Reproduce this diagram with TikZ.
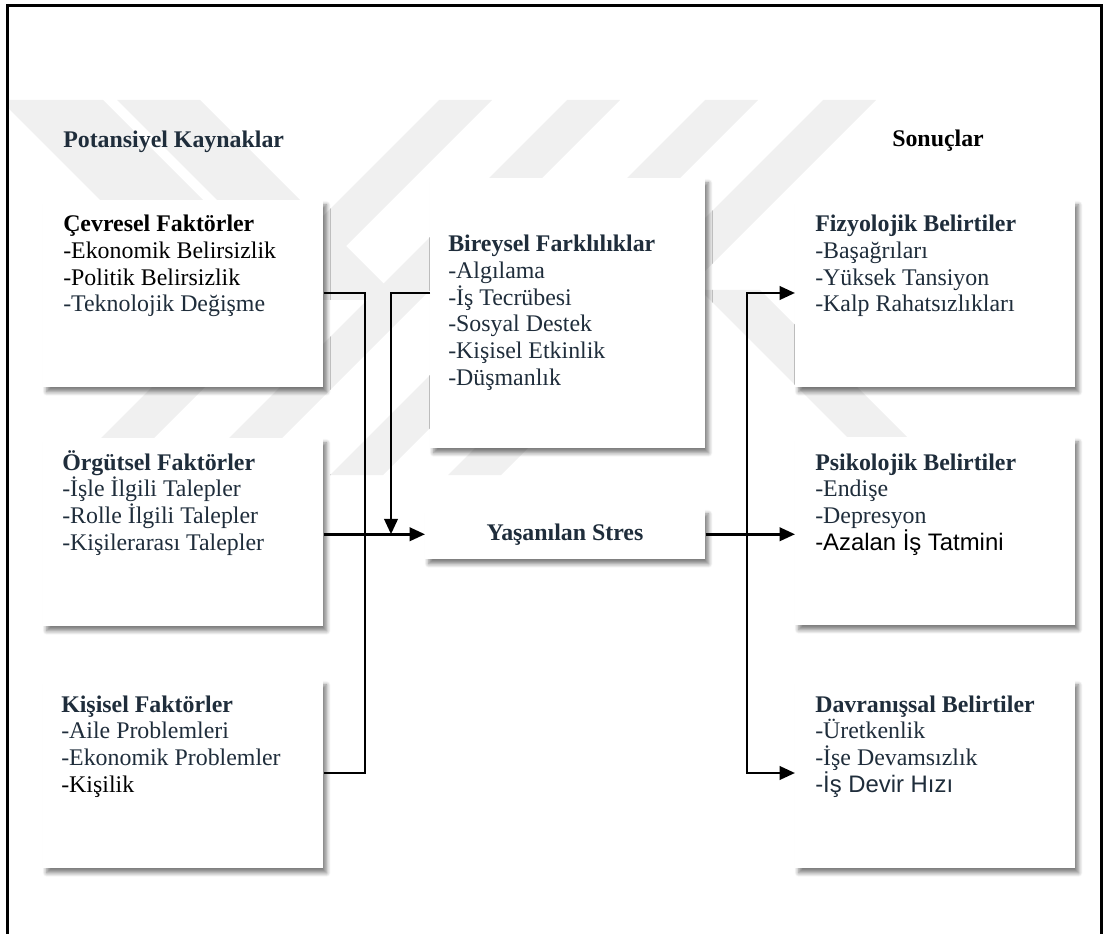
\documentclass[tikz,border=0pt]{standalone}
\usepackage{fontspec}
\setmainfont{Liberation Serif}
\newfontfamily\arialfont{Liberation Sans}
\usetikzlibrary{arrows.meta,shadows.blur}
\definecolor{ink}{HTML}{1F2D3B}
\definecolor{mark}{HTML}{F0F0F0}

% lines of a box, baselines exactly 20pt apart, anchored on the first baseline
\newcommand\stack[1]{\vtop{\lineskiplimit=-100pt\relax\lineskip=0pt\relax
  \baselineskip=20pt\relax\halign{##\hfil\cr#1\crcr}}}

\tikzset{
  panel/.style={fill=white, anchor=north west, inner sep=0pt,
    blur shadow={shadow xshift=2.5pt, shadow yshift=-3.5pt,
      shadow blur radius=3pt, shadow blur steps=8, shadow opacity=50}},
  lbl/.style={anchor=base west, inner sep=0pt,
    font=\fontsize{17.9pt}{20pt}\selectfont, text=ink},
  link/.style={line width=2pt, draw=black},
  tip/.style={-{Triangle[length=11.5pt,width=10pt]}},
  tips/.style={{Triangle[length=11.5pt,width=10pt]}-{Triangle[length=11.5pt,width=10pt]}},
  band/.style={fill=mark, draw=none},
}

\begin{document}
\begin{tikzpicture}[x=0.75pt, y=-0.75pt]
\useasboundingbox (0,0) rectangle (1110,934);

% faint background stripes
\begin{scope}
  \clip (8,100) rectangle (1102,475);
  % rising stripes
  \foreach \a in {439,567,705,823}
    \fill[band] (\a,100) -- ++(53,0) -- ++(-375,375) -- ++(-53,0) -- cycle;
  % falling stripes
  \fill[band] (0,100) -- (103,100) -- (303,300) -- (200,300) -- cycle;
  \fill[band] (117,100) -- (200,100) -- (400,300) -- (317,300) -- cycle;
  \fill[band] (700,290) -- (760,290) -- (945,475) -- (885,475) -- cycle;
\end{scope}

% outer frame
\draw[line width=2.2pt] (7.5,940) -- (7.5,5.5) -- (1101.5,5.5) -- (1101.5,940);

% column titles
\node[lbl, font=\fontsize{17.9pt}{20pt}\selectfont\bfseries] (tsrc) at (63,148) {Potansiyel Kaynaklar};
\node[lbl, text=black, font=\fontsize{17.9pt}{20pt}\selectfont\bfseries] (tres) at (892,147) {Sonuçlar};

% boxes
\node[panel, minimum width=210pt, minimum height=140.25pt] (cev) at (43,200) {};
\node[panel, minimum width=210pt, minimum height=141pt] (org) at (43,438) {};
\node[panel, minimum width=210pt, minimum height=141pt] (kis) at (43,680) {};
\node[panel, minimum width=206.25pt, minimum height=202.5pt] (bir) at (430,178) {};
\node[panel, minimum width=210pt, minimum height=37.5pt] (yas) at (425,509) {};
\node[panel, minimum width=210pt, minimum height=140.25pt] (fiz) at (795,200) {};
\node[panel, minimum width=210pt, minimum height=141pt] (psi) at (795,437) {};
\node[panel, minimum width=210pt, minimum height=141pt] (dav) at (795,680) {};

% box texts
\node[lbl] (cevt) at (63,232) {\stack{{\color{black}\bfseries Çevresel Faktörler}\cr
  {\color{black}-Ekonomik Belirsizlik}\cr {\color{black}-Politik Belirsizlik}\cr -Teknolojik Değişme}};
\node[lbl] (orgt) at (62,470) {\stack{{\bfseries Örgütsel Faktörler}\cr
  -İşle İlgili Talepler\cr -Rolle İlgili Talepler\cr -Kişilerarası Talepler}};
\node[lbl] (kist) at (61,712) {\stack{{\bfseries Kişisel Faktörler}\cr
  -Aile Problemleri\cr -Ekonomik Problemler\cr {\color{black}-Kişilik}}};
\node[lbl] (birt) at (448,252) {\stack{{\bfseries Bireysel Farklılıklar}\cr
  -Algılama\cr -İş Tecrübesi\cr -Sosyal Destek\cr -Kişisel Etkinlik\cr -Düşmanlık}};
\node[lbl, anchor=base, font=\fontsize{17.9pt}{20pt}\selectfont\bfseries] (yast) at (565,540) {Yaşanılan Stres};
\node[lbl] (fizt) at (815,232) {\stack{{\bfseries Fizyolojik Belirtiler}\cr
  -Başağrıları\cr -Yüksek Tansiyon\cr -Kalp Rahatsızlıkları}};
\node[lbl] (psit) at (815,470) {\stack{{\bfseries Psikolojik Belirtiler}\cr
  -Endişe\cr -Depresyon\cr {\color{black}\arialfont -Azalan İş Tatmini}}};
\node[lbl] (davt) at (815,712) {\stack{{\bfseries Davranışsal Belirtiler}\cr
  -Üretkenlik\cr -İşe Devamsızlık\cr {\arialfont -İş Devir Hızı}}};

% junction points of the connectors
\coordinate (ja) at (365,293);
\coordinate (jb) at (365,773);
\coordinate (jc) at (391,293);
\coordinate (jd) at (747,293);
\coordinate (je) at (747,773);

% connectors
\draw[link] (ja -| cev.east) -- (ja) -- (jb) -- (jb -| kis.east);
\draw[link, tip] (yas.west -| org.east) -- (yas.west);
\draw[link, tip] (jc -| bir.west) -- (jc) -- (jc |- yas.west);
\draw[link, tip] (yas.east) -- (yas.east -| psi.west);
\draw[link, tips] (jd -| fiz.west) -- (jd) -- (je) -- (je -| dav.west);
\end{tikzpicture}
\end{document}
